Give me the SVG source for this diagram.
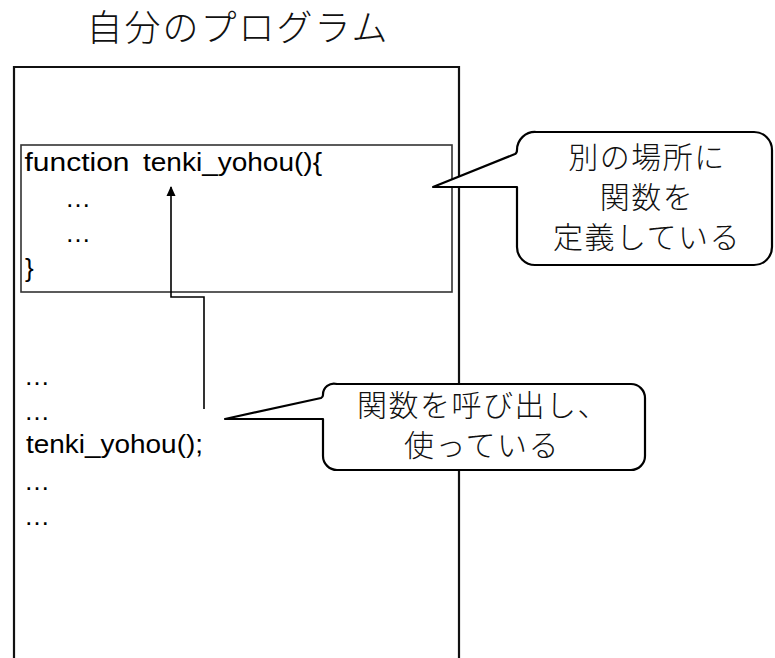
<svg xmlns="http://www.w3.org/2000/svg" width="775" height="658" viewBox="0 0 775 658">
<style>
.code{font-family:"Liberation Sans",Arial,sans-serif;font-size:26px;fill:#000}
.jp{font-family:"Noto Sans CJK JP","Noto Sans",sans-serif;font-weight:300;font-size:30px;fill:#111;text-anchor:middle;letter-spacing:1.5px}
.title{font-family:"Noto Sans CJK JP","Noto Sans",sans-serif;font-weight:300;font-size:36px;fill:#111;text-anchor:middle;letter-spacing:2px}
.box{fill:none;stroke:#111;stroke-width:2.2}
.inner{fill:none;stroke:#333;stroke-width:1.6}
.callout{fill:#fff;stroke:#000;stroke-width:2.2;stroke-linejoin:round}
.conn{fill:none;stroke:#000;stroke-width:1.6}
</style>
<defs>
<marker id="arr" viewBox="0 0 10 10" refX="9" refY="5" markerWidth="10" markerHeight="10" markerUnits="userSpaceOnUse" orient="auto">
<path d="M0,0.5 L10,5 L0,9.5 Z" fill="#000"/>
</marker>
</defs>
<rect width="775" height="658" fill="#fff"/>
<g id="program">
<text class="title" x="238" y="41">自分のプログラム</text>
<path class="box" d="M14,680 V67 H459 V680"/>
</g>
<g id="function-def">
<rect class="inner" x="21" y="145" width="431" height="147"/>
<text class="code" x="24.5" y="171" textLength="105" lengthAdjust="spacingAndGlyphs">function</text>
<text class="code" x="143" y="171" textLength="179" lengthAdjust="spacingAndGlyphs">tenki_yohou(){</text>
<text class="code" x="65" y="207">…</text>
<text class="code" x="65" y="242">…</text>
<text class="code" x="25" y="277">}</text>
</g>
<g id="main-code">
<text class="code" x="24" y="385">…</text>
<text class="code" x="24" y="420">…</text>
<text class="code" x="26" y="453" textLength="177" lengthAdjust="spacingAndGlyphs">tenki_yohou();</text>
<text class="code" x="24" y="490">…</text>
<text class="code" x="24" y="525">…</text>
</g>
<g id="connectors">
<polyline class="conn" points="204,409 204,297 171,297 171,187" marker-end="url(#arr)"/>
</g>
<g id="callout-define">
<path class="callout" d="M536,132 H754 A18,18 0 0 1 772,150 V247 A18,18 0 0 1 754,265 H535 A18,18 0 0 1 517,247 V187 H433 L515,154 Q517,153 517,150 A18,18 0 0 1 536,132 Z"/>
<text class="jp" x="647" y="168">別の場所に</text>
<text class="jp" x="647" y="208">関数を</text>
<text class="jp" x="647" y="248">定義している</text>
</g>
<g id="callout-call">
<path class="callout" d="M337,384 H631 A14,14 0 0 1 645,398 V456 A14,14 0 0 1 631,470 H337 A14,14 0 0 1 323,456 V419 H225 L321,398 Q323,397 323,395 A11,11 0 0 1 337,384 Z"/>
<text class="jp" x="483" y="416">関数を呼び出し、</text>
<text class="jp" x="482" y="456">使っている</text>
</g>
</svg>
